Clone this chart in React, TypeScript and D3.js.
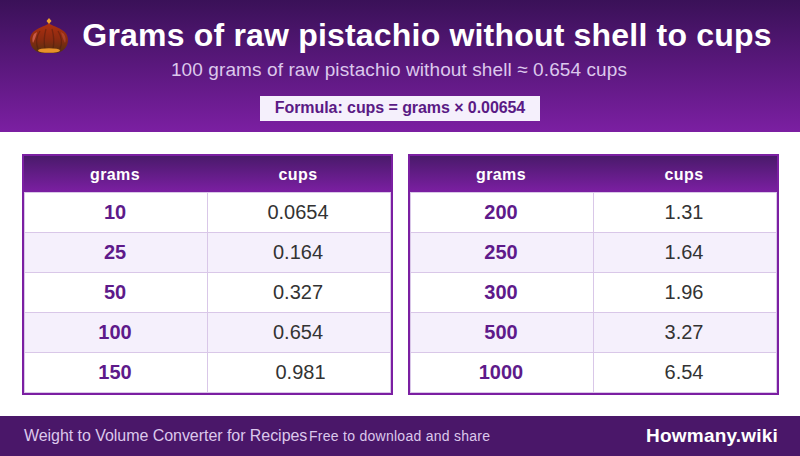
import * as d3 from "d3";

const width = 800;
const height = 456;
const font = "'Liberation Sans', Arial, sans-serif";

const titleText = "Grams of raw pistachio without shell to cups";
const subtitleText = "100 grams of raw pistachio without shell ≈ 0.654 cups";
const formulaText = "Formula: cups = grams × 0.00654";
const columnLabels = ["grams", "cups"];
const leftGrams = ["10", "25", "50", "100", "150"];
const leftCups = ["0.0654", "0.164", "0.327", "0.654", "0.981"];
const rightGrams = ["200", "250", "300", "500", "1000"];
const rightCups = ["1.31", "1.64", "1.96", "3.27", "6.54"];
const footerLeft = "Weight to Volume Converter for Recipes";
const footerMiddle = "Free to download and share";
const footerRight = "Howmany.wiki";

const lineColor = "#d9c7e8";

const Table = ({ x, grams, cups }: { x: number; grams: string[]; cups: string[] }) => {
  const w = 371;
  const left = x + 2;
  const right = x + w - 2;
  const split = x + 185.5;
  const yScale = d3.scaleBand<number>().domain(d3.range(grams.length)).range([193, 393]);
  return (
    <g>
      <rect x={left} y={156} width={right - left} height={36} fill="url(#headGrad)" />
      <line x1={left} x2={right} y1={192.5} y2={192.5} stroke={lineColor} />
      <text x={x + 93} y={180} textAnchor="middle" fontFamily={font} fontWeight="bold" fontSize={16} letterSpacing={0.4} fill="#fff">{columnLabels[0]}</text>
      <text x={x + 276} y={180} textAnchor="middle" fontFamily={font} fontWeight="bold" fontSize={16} letterSpacing={0.4} fill="#fff">{columnLabels[1]}</text>
      {grams.map((g, i) => {
        const y = yScale(i) as number;
        const h = yScale.bandwidth();
        // 0.981 sits a little off centre in the original
        const nudge = cups[i] === "0.981" ? 2.5 : 0;
        return (
          <g key={g}>
            <rect x={left} y={y} width={right - left} height={h} fill={i % 2 ? "#f5f0fc" : "#ffffff"} />
            <line x1={left} x2={right} y1={y + h - 0.5} y2={y + h - 0.5} stroke={lineColor} />
            <line x1={split} x2={split} y1={y} y2={y + h} stroke={lineColor} />
            <text x={x + 93} y={y + 26} textAnchor="middle" fontFamily={font} fontWeight="bold" fontSize={20} fill="#5e1a8a">{g}</text>
            <text x={x + 276 + nudge} y={y + 26} textAnchor="middle" fontFamily={font} fontSize={20} fill="#333">{cups[i]}</text>
          </g>
        );
      })}
      <line x1={left + 0.5} x2={left + 0.5} y1={193} y2={393} stroke={lineColor} />
      <line x1={right - 0.5} x2={right - 0.5} y1={193} y2={393} stroke={lineColor} />
      <rect x={x + 1} y={155} width={w - 2} height={239} fill="none" stroke="#7b1fa2" strokeWidth={2} />
    </g>
  );
};

// chestnut icon in the header
const Chestnut = () => (
  <g transform="translate(49,36)">
    <path d="M0,-13 C-3,-9 -19,-8 -19,4 C-19,12 -12,17 -7,17 L7,17 C12,17 19,12 19,4 C19,-8 3,-9 0,-13 Z" fill="url(#nutGrad)" />
    <path d="M-9,-5 C-13,1 -13,8 -11,13 M-3,-7 C-5,0 -5,8 -4,13 M3,-7 C5,0 5,8 4,13 M9,-5 C13,1 13,8 11,13" fill="none" stroke="#4a1a10" strokeWidth={1.3} opacity={0.45} />
    <path d="M-15,-2 C-17,1 -17,5 -16,7 C-14,3 -13,0 -12,-4 Z" fill="#d9695a" opacity={0.75} />
    <path d="M15,-2 C17,1 17,5 16,7 C14,3 13,0 12,-4 Z" fill="#d9695a" opacity={0.35} />
    <ellipse cx={0} cy={14.5} rx={11} ry={2.3} fill="#e8912a" />
    <path d="M0,-18 L2.5,-15 L0,-12 L-2.5,-15 Z" fill="#f0a030" />
  </g>
);

const App = () => {
  return (
    <svg width={width} height={height} style={{ position: "absolute", left: 0, top: 0 }}>
      <defs>
        <linearGradient id="bannerGrad" x1="0" y1="0" x2="0" y2="1">
          <stop offset="0%" stopColor="#3a1158" />
          <stop offset="100%" stopColor="#7b1fa2" />
        </linearGradient>
        <linearGradient id="headGrad" x1="0" y1="0" x2="0" y2="1">
          <stop offset="0%" stopColor="#4a1a6b" />
          <stop offset="100%" stopColor="#7b1fa2" />
        </linearGradient>
        <linearGradient id="nutGrad" x1="0" y1="0" x2="0" y2="1">
          <stop offset="0%" stopColor="#b03010" />
          <stop offset="55%" stopColor="#8a2a10" />
          <stop offset="100%" stopColor="#523010" />
        </linearGradient>
      </defs>
      <rect width={width} height={height} fill="#fff" />
      <rect width={width} height={132} fill="url(#bannerGrad)" />
      <Chestnut />
      <text x={427} y={46} textAnchor="middle" fontFamily={font} fontWeight="bold" fontSize={32} letterSpacing={0.19} fill="#fff">{titleText}</text>
      <text x={399} y={76} textAnchor="middle" fontFamily={font} fontSize={19} letterSpacing={0.1} fill="#dcc8ec">{subtitleText}</text>
      <rect x={260} y={96} width={280} height={25} fill="#f5f0fc" />
      <text x={400} y={113} textAnchor="middle" fontFamily={font} fontWeight="bold" fontSize={16} letterSpacing={-0.07} fill="#5a1a85">{formulaText}</text>
      <Table x={22} grams={leftGrams} cups={leftCups} />
      <Table x={408} grams={rightGrams} cups={rightCups} />
      <rect y={416} width={width} height={40} fill="#4a1769" />
      <text x={24} y={441} fontFamily={font} fontSize={16} letterSpacing={-0.05} fill="#dcc8ec">{footerLeft}</text>
      <text x={309} y={441} fontFamily={font} fontSize={14} letterSpacing={0.27} fill="#dcc8ec">{footerMiddle}</text>
      <text x={778} y={442} textAnchor="end" fontFamily={font} fontWeight="bold" fontSize={19} letterSpacing={0.2} fill="#fff">{footerRight}</text>
    </svg>
  );
};

export default App;
